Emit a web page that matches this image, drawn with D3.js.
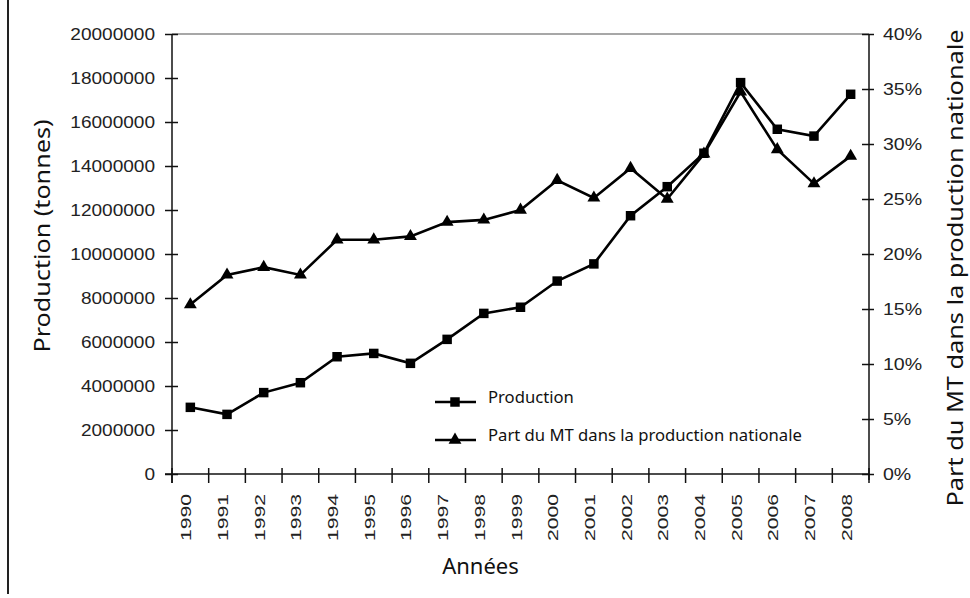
<!DOCTYPE html>
<html>
<head>
<meta charset="utf-8">
<script src="https://cdn.jsdelivr.net/npm/d3@7"></script>
<style>
  body { margin: 0; background: #fff; }
  svg { display: block; }
</style>
</head>
<body>
<svg id="chart" width="970" height="598"></svg>
<script>
// data
var years = ["1990","1991","1992","1993","1994","1995","1996","1997","1998","1999",
             "2000","2001","2002","2003","2004","2005","2006","2007","2008"];
var production = [3030000, 2710000, 3700000, 4150000, 5330000, 5480000, 5030000, 6120000,
                  7300000, 7580000, 8770000, 9550000, 11740000, 13060000, 14580000,
                  17790000, 15670000, 15360000, 17260000];
var partMT = [0.154, 0.181, 0.188, 0.181, 0.213, 0.213, 0.216, 0.229, 0.231, 0.240,
              0.267, 0.251, 0.278, 0.250, 0.291, 0.3475, 0.295, 0.264, 0.289];
var leftTicks = [0, 2000000, 4000000, 6000000, 8000000, 10000000, 12000000, 14000000,
                 16000000, 18000000, 20000000];
var rightTicks = [0, 0.05, 0.10, 0.15, 0.20, 0.25, 0.30, 0.35, 0.40];
var legendLabels = ["Production", "Part du MT dans la production nationale"];

var svg = d3.select("#chart");
var pLeft = 172, pRight = 869, pTop = 34, pBottom = 474;

var x = d3.scaleBand().domain(years).range([pLeft, pRight]).padding(0);
var yL = d3.scaleLinear().domain([0, 20000000]).range([pBottom, pTop]);
var yR = d3.scaleLinear().domain([0, 0.4]).range([pBottom, pTop]);

var tickFont = "'Liberation Sans', Arial, sans-serif";
var titleFont = "'Noto Sans', 'Open Sans', sans-serif";

// frame line on the left
svg.append("line").attr("x1", 8).attr("x2", 8).attr("y1", 0).attr("y2", 594)
  .attr("stroke", "#222").attr("stroke-width", 2);

// top border of the plot
svg.append("line").attr("x1", pLeft).attr("x2", pRight).attr("y1", pTop).attr("y2", pTop)
  .attr("stroke", "#8a8a8a").attr("stroke-width", 1.5);

// stretch a text horizontally by a factor
function widen(sel, k) {
  sel.each(function() {
    var w = this.getComputedTextLength();
    d3.select(this).attr("textLength", w * k).attr("lengthAdjust", "spacingAndGlyphs");
  });
}

// left axis
var gL = svg.append("g").attr("transform", "translate(" + pLeft + ",0)")
  .call(d3.axisLeft(yL).tickValues(leftTicks).tickSize(0).tickPadding(17).tickFormat(d3.format("d")));
gL.select(".domain").remove();
gL.append("line").attr("x1", 0).attr("x2", 0).attr("y1", pTop).attr("y2", pBottom + 9)
  .attr("stroke", "#111").attr("stroke-width", 1.5);
gL.selectAll(".tick line").attr("x1", -7).attr("x2", 6).attr("stroke", "#111").attr("stroke-width", 1.5);
gL.selectAll(".tick text").attr("font-family", tickFont).attr("font-size", 17).attr("fill", "#222")
  .call(widen, 1.12);

// right axis
var gR = svg.append("g").attr("transform", "translate(" + pRight + ",0)")
  .call(d3.axisRight(yR).tickValues(rightTicks).tickSize(0).tickPadding(14).tickFormat(d3.format(".0%")));
gR.select(".domain").remove();
gR.append("line").attr("x1", 0).attr("x2", 0).attr("y1", pTop).attr("y2", pBottom + 6)
  .attr("stroke", "#111").attr("stroke-width", 1.5);
gR.selectAll(".tick line").attr("x1", -7).attr("x2", 5).attr("stroke", "#111").attr("stroke-width", 1.5);
gR.selectAll(".tick text").attr("font-family", tickFont).attr("font-size", 17).attr("fill", "#222")
  .call(widen, 1.15);

// bottom axis: labels from the axis, ticks on band edges
var gB = svg.append("g").attr("transform", "translate(0," + pBottom + ")")
  .call(d3.axisBottom(x).tickSize(0));
gB.select(".domain").remove();
gB.append("line").attr("x1", pLeft - 7).attr("x2", pRight).attr("y1", 0).attr("y2", 0)
  .attr("stroke", "#111").attr("stroke-width", 1.5);
var edges = years.map(function(d) { return x(d); }).concat([pRight]);
gB.selectAll(".edge").data(edges).enter().append("line").attr("class", "edge")
  .attr("x1", function(d) { return d; }).attr("x2", function(d) { return d; })
  .attr("y1", -6).attr("y2", 9).attr("stroke", "#111").attr("stroke-width", 1.5);
gB.selectAll(".tick text")
  .attr("font-family", tickFont).attr("font-size", 15).attr("fill", "#222")
  .attr("text-anchor", "end").attr("dy", null)
  .attr("transform", "translate(1,20) rotate(-90)")
  .attr("x", 0).attr("y", 0)
  .attr("textLength", 47).attr("lengthAdjust", "spacingAndGlyphs");

// axis titles
svg.append("text").attr("transform", "translate(50,236) rotate(-90)")
  .attr("text-anchor", "middle").attr("font-family", titleFont).attr("font-size", 22)
  .attr("fill", "#111").attr("textLength", 233).attr("lengthAdjust", "spacingAndGlyphs")
  .text("Production (tonnes)");
svg.append("text").attr("transform", "translate(963,268) rotate(-90)")
  .attr("text-anchor", "middle").attr("font-family", titleFont).attr("font-size", 22)
  .attr("fill", "#111").attr("textLength", 477).attr("lengthAdjust", "spacingAndGlyphs")
  .text("Part du MT dans la production nationale");
svg.append("text").attr("x", (pLeft + pRight) / 2 - 40).attr("y", 574)
  .attr("text-anchor", "middle").attr("font-family", titleFont).attr("font-size", 22)
  .attr("fill", "#111").text("Années");

// lines
var cx = function(d, i) { return x(years[i]) + x.bandwidth() / 2; };
var lineL = d3.line().x(cx).y(function(d) { return yL(d); });
var lineR = d3.line().x(cx).y(function(d) { return yR(d); });

svg.append("path").datum(partMT).attr("d", lineR)
  .attr("fill", "none").attr("stroke", "#000").attr("stroke-width", 2.6);
svg.append("path").datum(production).attr("d", lineL)
  .attr("fill", "none").attr("stroke", "#000").attr("stroke-width", 2.6);

var sq = d3.symbol().type(d3.symbolSquare).size(90);
var tri = d3.symbol().type(d3.symbolTriangle).size(72);

svg.selectAll(".tri").data(partMT).enter().append("path").attr("class", "tri")
  .attr("d", tri).attr("fill", "#000")
  .attr("transform", function(d, i) { return "translate(" + cx(d, i) + "," + yR(d) + ")"; });
svg.selectAll(".sq").data(production).enter().append("path").attr("class", "sq")
  .attr("d", sq).attr("fill", "#000")
  .attr("transform", function(d, i) { return "translate(" + cx(d, i) + "," + yL(d) + ")"; });

// legend
var lg = svg.append("g").attr("transform", "translate(435,402)");
var rows = lg.selectAll(".row").data(legendLabels).enter().append("g")
  .attr("transform", function(d, i) { return "translate(0," + i * 38 + ")"; });
rows.append("line").attr("x1", 0).attr("x2", 41).attr("y1", 0).attr("y2", 0)
  .attr("stroke", "#000").attr("stroke-width", 2.6);
rows.append("path").attr("transform", "translate(20,0)")
  .attr("d", function(d, i) { return i === 0 ? sq() : tri(); }).attr("fill", "#000");
rows.append("text").attr("x", 53).attr("y", 1)
  .attr("font-family", titleFont).attr("font-size", 16).attr("fill", "#111")
  .text(function(d) { return d; })
  .call(widen, 1.04);
</script>
</body>
</html>
